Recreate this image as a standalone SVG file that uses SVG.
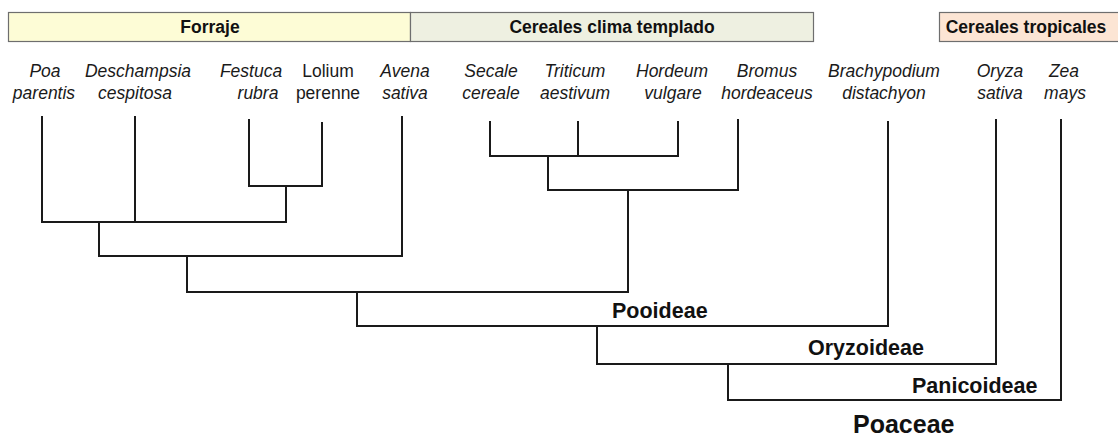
<svg xmlns="http://www.w3.org/2000/svg" width="1118" height="438" viewBox="0 0 1118 438">
<style>
.hdr{stroke:#6e6e6e;stroke-width:1.2}
.ht{font-family:"Liberation Sans",Arial,sans-serif;font-weight:bold;font-size:17.5px;fill:#111;text-anchor:middle}
.sp{font-family:"Liberation Sans",Arial,sans-serif;font-style:italic;font-size:17.5px;fill:#1a1a1a;text-anchor:middle}
.up{font-style:normal}
.cl{font-family:"Liberation Sans",Arial,sans-serif;font-weight:bold;font-size:21.5px;fill:#111}
.tree{fill:none;stroke:#1a1a1a;stroke-width:2;stroke-linecap:square}
</style>
<rect width="1118" height="438" fill="#ffffff"/>
<g id="header-forraje">
<rect class="hdr" x="8.5" y="12.5" width="402" height="29" fill="#fdfcd6"/>
<text class="ht" x="210" y="33">Forraje</text>
</g>
<g id="header-cereales-templado">
<rect class="hdr" x="410.5" y="12.5" width="403" height="29" fill="#eef0e1"/>
<text class="ht" x="612" y="33">Cereales clima templado</text>
</g>
<g id="header-cereales-tropicales">
<rect class="hdr" x="939.5" y="12.5" width="190" height="29" fill="#fce5d4"/>
<text class="ht" x="1026" y="33">Cereales tropicales</text>
</g>
<g id="poa-parentis"><text class="sp" x="45" y="77">Poa</text><text class="sp" x="44" y="99">parentis</text></g>
<g id="deschampsia-cespitosa"><text class="sp" x="138" y="77">Deschampsia</text><text class="sp" x="135" y="99">cespitosa</text></g>
<g id="festuca-rubra"><text class="sp" x="251" y="77">Festuca</text><text class="sp" x="258" y="99">rubra</text></g>
<g id="lolium-perenne"><text class="sp up" x="328" y="77">Lolium</text><text class="sp up" x="328" y="99">perenne</text></g>
<g id="avena-sativa"><text class="sp" x="405" y="77">Avena</text><text class="sp" x="405" y="99">sativa</text></g>
<g id="secale-cereale"><text class="sp" x="491" y="77">Secale</text><text class="sp" x="491" y="99">cereale</text></g>
<g id="triticum-aestivum"><text class="sp" x="575" y="77">Triticum</text><text class="sp" x="575" y="99">aestivum</text></g>
<g id="hordeum-vulgare"><text class="sp" x="672" y="77">Hordeum</text><text class="sp" x="673" y="99">vulgare</text></g>
<g id="bromus-hordeaceus"><text class="sp" x="767" y="77">Bromus</text><text class="sp" x="767" y="99">hordeaceus</text></g>
<g id="brachypodium-distachyon"><text class="sp" x="884" y="77">Brachypodium</text><text class="sp" x="884" y="99">distachyon</text></g>
<g id="oryza-sativa"><text class="sp" x="1000" y="77">Oryza</text><text class="sp" x="1000" y="99">sativa</text></g>
<g id="zea-mays"><text class="sp" x="1064" y="77">Zea</text><text class="sp" x="1065" y="99">mays</text></g>
<g id="clade-pooideae"><text class="cl" x="612" y="318">Pooideae</text></g>
<g id="clade-oryzoideae"><text class="cl" x="808" y="355">Oryzoideae</text></g>
<g id="clade-panicoideae"><text class="cl" x="912" y="393">Panicoideae</text></g>
<g id="clade-poaceae"><text class="cl" x="853" y="433" style="font-size:25px">Poaceae</text></g>
<g id="connectors">
<path class="tree" d="M42,117V222M135,117V222M249,120V186M322,123V186M249,186H322M286,186V222M42,222H286M99,222V256M99,256H402M402,117V256M187,256V292M187,292H628"/>
<path class="tree" d="M490,122V156M578,122V156M678,122V156M490,156H678M548,156V190M548,190H738M738,120V190M628,190V292"/>
<path class="tree" d="M357,292V326M357,326H888M888,122V326M597,326V364M597,364H996M996,120V364M728,364V400M728,400H1061M1061,120V400"/>
</g>
</svg>
